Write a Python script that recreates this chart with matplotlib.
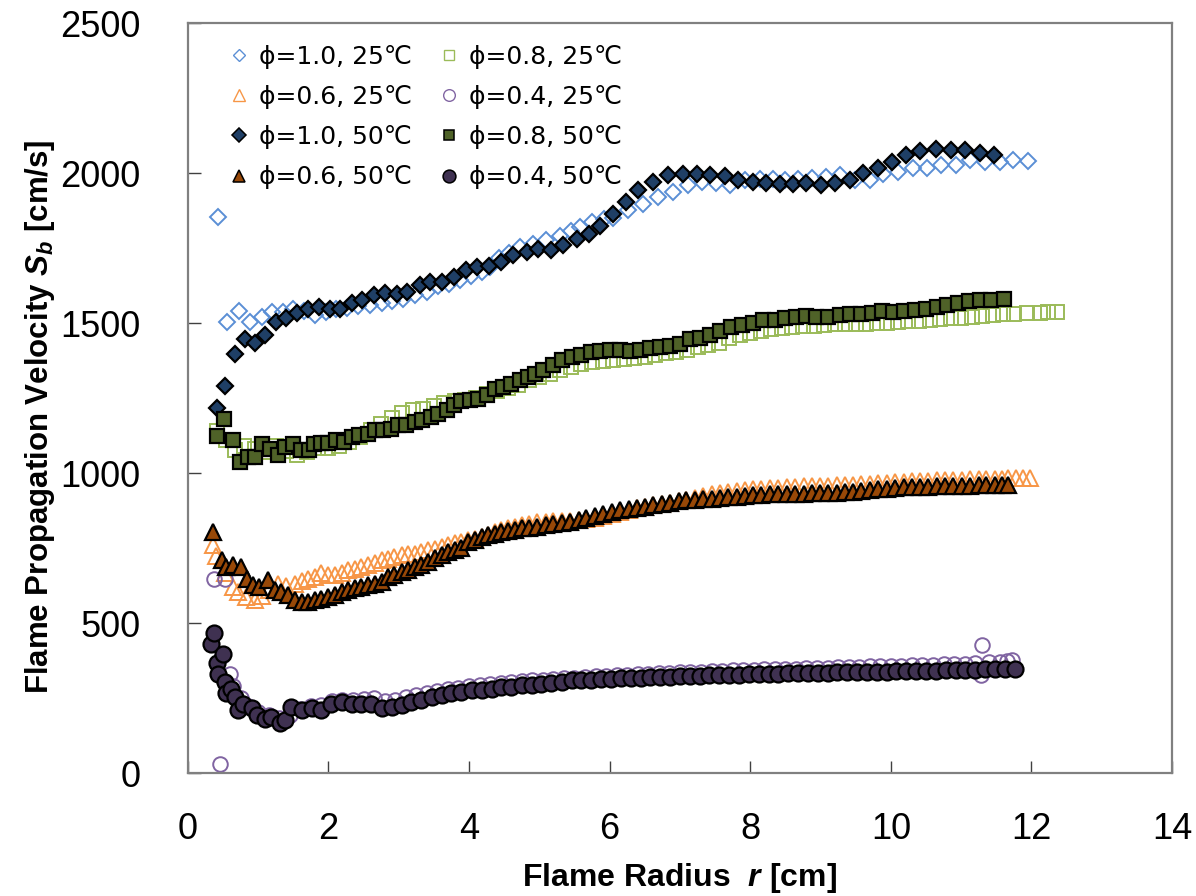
import matplotlib
matplotlib.use('Agg')
import matplotlib.pyplot as plt
from matplotlib.lines import Line2D

plt.rcParams['mathtext.fontset'] = 'custom'
plt.rcParams['mathtext.it'] = 'Liberation Sans:bold:italic'
plt.rcParams['mathtext.rm'] = 'Liberation Sans:bold'

# phi = 1.0
r_10_25 = [0.43, 0.56, 0.73, 0.89, 1.05, 1.20, 1.36, 1.50, 1.66, 1.81, 1.96, 2.11, 2.27, 2.42,
           2.59, 2.76, 2.91, 3.06, 3.23, 3.40, 3.56, 3.72, 3.87, 4.03, 4.18, 4.30, 4.42, 4.57,
           4.72, 4.91, 5.10, 5.30, 5.45, 5.58, 5.75, 5.92, 6.05, 6.26, 6.48, 6.69, 6.90, 7.12,
           7.31, 7.52, 7.71, 7.92, 8.14, 8.33, 8.50, 8.68, 8.88, 9.08, 9.27, 9.49, 9.70, 9.89,
           10.10, 10.31, 10.51, 10.72, 10.93, 11.12, 11.34, 11.55, 11.74, 11.95]
sb_10_25 = [1853, 1504, 1540, 1504, 1520, 1536, 1538, 1549, 1540, 1527, 1538, 1549, 1552, 1557,
            1560, 1566, 1575, 1582, 1593, 1605, 1623, 1632, 1643, 1656, 1671, 1688, 1716, 1735,
            1754, 1765, 1777, 1792, 1808, 1821, 1836, 1846, 1850, 1877, 1899, 1921, 1938, 1960,
            1971, 1966, 1960, 1977, 1982, 1982, 1978, 1980, 1985, 1988, 1993, 1977, 1977, 1999,
            2004, 2016, 2016, 2027, 2027, 2043, 2038, 2038, 2043, 2041]

r_10_50 = [0.41, 0.53, 0.67, 0.81, 0.95, 1.10, 1.25, 1.40, 1.56, 1.71, 1.86, 2.02, 2.17, 2.33,
           2.48, 2.65, 2.80, 2.97, 3.12, 3.30, 3.45, 3.62, 3.78, 3.96, 4.12, 4.28, 4.46, 4.63,
           4.82, 4.98, 5.17, 5.34, 5.53, 5.70, 5.87, 6.05, 6.23, 6.41, 6.62, 6.83, 7.04, 7.24,
           7.43, 7.64, 7.83, 8.04, 8.23, 8.42, 8.61, 8.80, 9.01, 9.20, 9.42, 9.61, 9.82, 10.01,
           10.22, 10.41, 10.64, 10.85, 11.05, 11.27, 11.47]
sb_10_50 = [1218, 1290, 1397, 1446, 1434, 1462, 1504, 1519, 1534, 1546, 1554, 1547, 1547, 1566,
            1577, 1593, 1601, 1597, 1604, 1627, 1638, 1638, 1654, 1679, 1686, 1690, 1704, 1727,
            1738, 1749, 1743, 1760, 1782, 1799, 1823, 1863, 1904, 1943, 1971, 1993, 1999, 1997,
            1993, 1990, 1979, 1971, 1966, 1963, 1963, 1966, 1960, 1966, 1979, 2001, 2019, 2038,
            2060, 2074, 2082, 2077, 2077, 2068, 2060]

# phi = 0.8
r_08_25 = [0.41, 0.55, 0.67, 0.80, 0.95, 1.10, 1.25, 1.40, 1.55, 1.70, 1.85, 2.00, 2.15, 2.30,
           2.45, 2.60, 2.75, 2.90, 3.05, 3.20, 3.35, 3.50, 3.65, 3.80, 3.95, 4.10, 4.25, 4.40,
           4.55, 4.70, 4.85, 5.00, 5.15, 5.30, 5.45, 5.60, 5.75, 5.90, 6.05, 6.20, 6.35, 6.50,
           6.65, 6.80, 6.95, 7.10, 7.25, 7.40, 7.55, 7.70, 7.85, 8.00, 8.15, 8.30, 8.45, 8.60,
           8.75, 8.90, 9.05, 9.20, 9.35, 9.50, 9.65, 9.80, 9.95, 10.10, 10.25, 10.40, 10.55,
           10.70, 10.85, 11.00, 11.15, 11.30, 11.45, 11.60, 11.75, 11.93, 12.12, 12.24, 12.36]
sb_08_25 = [1140, 1110, 1077, 1090, 1080, 1070, 1090, 1075, 1060, 1070, 1085, 1085, 1090, 1105,
            1120, 1145, 1165, 1185, 1200, 1210, 1215, 1225, 1235, 1240, 1245, 1250, 1265, 1275,
            1285, 1295, 1310, 1320, 1330, 1345, 1355, 1365, 1372, 1375, 1378, 1380, 1383, 1388,
            1395, 1400, 1405, 1412, 1420, 1428, 1435, 1450, 1462, 1468, 1475, 1480, 1485, 1488,
            1490, 1492, 1494, 1496, 1497, 1498, 1499, 1500, 1502, 1505, 1507, 1509, 1510,
            1513, 1516, 1519, 1521, 1524, 1528, 1530, 1532, 1534, 1534, 1536, 1536]

r_08_50 = [0.41, 0.52, 0.64, 0.74, 0.85, 0.95, 1.06, 1.17, 1.28, 1.38, 1.50, 1.61, 1.72, 1.80,
           1.90, 2.00, 2.11, 2.22, 2.33, 2.43, 2.56, 2.67, 2.78, 2.89, 2.99, 3.11, 3.23, 3.33,
           3.46, 3.56, 3.68, 3.79, 3.89, 4.01, 4.13, 4.25, 4.37, 4.49, 4.60, 4.72, 4.84, 4.94,
           5.05, 5.20, 5.32, 5.46, 5.60, 5.73, 5.86, 6.00, 6.15, 6.29, 6.43, 6.57, 6.71, 6.86,
           7.00, 7.14, 7.28, 7.43, 7.57, 7.73, 7.89, 8.04, 8.18, 8.35, 8.49, 8.65, 8.80, 8.94,
           9.11, 9.27, 9.42, 9.57, 9.73, 9.88, 10.03, 10.18, 10.34, 10.50, 10.65, 10.80, 10.95,
           11.11, 11.27, 11.43, 11.61]
sb_08_50 = [1123, 1182, 1112, 1038, 1054, 1054, 1099, 1082, 1060, 1088, 1099, 1077, 1077, 1099,
            1101, 1101, 1110, 1104, 1121, 1127, 1132, 1143, 1143, 1149, 1160, 1160, 1171, 1177,
            1188, 1199, 1212, 1227, 1241, 1243, 1249, 1260, 1282, 1288, 1299, 1310, 1321, 1330,
            1343, 1360, 1377, 1388, 1393, 1404, 1408, 1410, 1412, 1408, 1412, 1416, 1421, 1423,
            1432, 1446, 1452, 1460, 1474, 1488, 1493, 1501, 1512, 1512, 1516, 1521, 1523, 1521,
            1521, 1527, 1530, 1532, 1534, 1540, 1538, 1541, 1543, 1549, 1554, 1562, 1568,
            1574, 1577, 1579, 1582]

# phi = 0.6
r_06_25 = [0.36, 0.40, 0.53, 0.64, 0.72, 0.83, 0.95, 1.05, 1.16, 1.28, 1.40, 1.52, 1.62, 1.71,
           1.81, 1.90, 2.00, 2.09, 2.19, 2.28, 2.38, 2.47, 2.56, 2.66, 2.76, 2.85, 2.94, 3.04,
           3.13, 3.23, 3.32, 3.42, 3.51, 3.61, 3.70, 3.80, 3.89, 3.99, 4.08, 4.18, 4.27, 4.37,
           4.46, 4.56, 4.65, 4.75, 4.85, 4.97, 5.09, 5.20, 5.32, 5.44, 5.56, 5.67, 5.79, 5.91,
           6.03, 6.15, 6.27, 6.39, 6.51, 6.62, 6.74, 6.86, 6.98, 7.09, 7.21, 7.33, 7.45, 7.57,
           7.69, 7.81, 7.93, 8.04, 8.16, 8.28, 8.40, 8.52, 8.64, 8.76, 8.88, 8.99, 9.11, 9.23,
           9.35, 9.46, 9.58, 9.70, 9.82, 9.94, 10.06, 10.18, 10.30, 10.41, 10.53, 10.65, 10.77,
           10.89, 11.01, 11.13, 11.25, 11.36, 11.48, 11.58, 11.67, 11.78, 11.88, 11.98]
sb_06_25 = [760, 723, 666, 621, 604, 588, 577, 590, 610, 632, 625, 632, 640, 649,
            655, 666, 662, 660, 668, 677, 682, 688, 693, 700, 710, 715, 720, 727,
            730, 732, 737, 743, 748, 754, 760, 766, 771, 776, 782, 787, 793, 805,
            810, 816, 822, 828, 832, 836, 838, 840, 840, 842, 845, 848, 852, 858,
            864, 872, 878, 884, 889, 894, 898, 902, 907, 912, 918, 924, 930, 935,
            938, 941, 944, 947, 949, 951, 952, 954, 955, 956, 957, 958, 959, 960,
            961, 962, 964, 965, 967, 968, 970, 971, 973, 974, 975, 976, 977,
            978, 979, 980, 980, 981, 982, 982, 983, 983, 984, 984]

r_06_50 = [0.36, 0.48, 0.55, 0.64, 0.76, 0.84, 0.93, 1.02, 1.14, 1.24, 1.33, 1.43, 1.52, 1.62,
           1.71, 1.81, 1.90, 2.00, 2.09, 2.19, 2.28, 2.38, 2.47, 2.56, 2.66, 2.76, 2.85, 2.94,
           3.04, 3.13, 3.23, 3.32, 3.42, 3.51, 3.61, 3.70, 3.80, 3.89, 3.99, 4.08, 4.18, 4.27,
           4.37, 4.46, 4.56, 4.65, 4.75, 4.85, 4.97, 5.09, 5.20, 5.32, 5.44, 5.56, 5.67, 5.79,
           5.91, 6.03, 6.15, 6.27, 6.39, 6.51, 6.62, 6.74, 6.86, 6.98, 7.09, 7.21, 7.33, 7.45,
           7.57, 7.69, 7.81, 7.93, 8.04, 8.16, 8.28, 8.40, 8.52, 8.64, 8.76, 8.88, 8.99, 9.11,
           9.23, 9.35, 9.46, 9.58, 9.70, 9.82, 9.94, 10.06, 10.18, 10.30, 10.41, 10.53, 10.65,
           10.77, 10.89, 11.01, 11.13, 11.25, 11.36, 11.48, 11.58, 11.67]
sb_06_50 = [805, 710, 688, 693, 688, 649, 627, 621, 643, 610, 604, 593, 577, 571,
            571, 577, 582, 588, 593, 604, 610, 616, 621, 627, 632, 638, 654, 660,
            671, 677, 688, 693, 704, 716, 727, 738, 745, 752, 771, 777, 788, 793,
            799, 805, 808, 812, 816, 818, 822, 826, 830, 834, 838, 845, 850, 856,
            864, 870, 877, 881, 885, 889, 893, 897, 902, 906, 910, 912, 914, 915,
            917, 920, 922, 925, 928, 929, 930, 931, 932, 932, 932, 933, 933, 934,
            935, 937, 939, 942, 944, 946, 949, 951, 953, 954, 955, 955, 956,
            956, 957, 958, 959, 960, 960, 961, 961, 962]

# phi = 0.4
r_04_25 = [0.38, 0.53, 0.46, 0.48, 0.60, 0.65, 0.75, 0.85, 1.00, 1.15, 1.30, 1.45, 1.60, 1.75,
           1.90, 2.05, 2.20, 2.35, 2.50, 2.65, 2.80, 2.95, 3.10, 3.25, 3.40, 3.55, 3.70, 3.85,
           4.00, 4.15, 4.30, 4.45, 4.60, 4.75, 4.90, 5.05, 5.20, 5.35, 5.50, 5.65, 5.80, 5.95,
           6.10, 6.25, 6.40, 6.55, 6.70, 6.85, 7.00, 7.15, 7.30, 7.45, 7.60, 7.75, 7.90, 8.05,
           8.20, 8.35, 8.50, 8.65, 8.80, 8.95, 9.10, 9.25, 9.40, 9.55, 9.70, 9.85, 10.00, 10.15,
           10.30, 10.45, 10.60, 10.75, 10.90, 11.05, 11.20, 11.30, 11.28, 11.40, 11.55, 11.65,
           11.72]
sb_04_25 = [646, 646, 32, 390, 330, 290, 250, 225, 205, 195, 185, 195, 215, 225,
            228, 240, 245, 245, 248, 250, 240, 245, 255, 262, 268, 275, 280, 285,
            290, 294, 298, 301, 304, 307, 310, 312, 315, 317, 319, 321, 323, 325,
            327, 329, 330, 332, 333, 335, 336, 338, 339, 340, 341, 343, 344, 345,
            346, 347, 348, 349, 350, 351, 352, 353, 354, 355, 356, 357, 358, 359,
            360, 361, 362, 363, 364, 365, 366, 427, 327, 370, 372, 375,
            377]

r_04_50 = [0.33, 0.38, 0.41, 0.43, 0.50, 0.53, 0.55, 0.62, 0.67, 0.72, 0.79, 0.91, 0.98, 1.10,
           1.19, 1.31, 1.38, 1.47, 1.62, 1.76, 1.90, 2.04, 2.19, 2.33, 2.47, 2.61, 2.76, 2.90,
           3.04, 3.18, 3.32, 3.47, 3.61, 3.75, 3.89, 4.04, 4.18, 4.32, 4.46, 4.60, 4.75, 4.89,
           5.03, 5.17, 5.32, 5.46, 5.60, 5.74, 5.88, 6.02, 6.16, 6.30, 6.44, 6.58, 6.72, 6.86,
           7.00, 7.14, 7.28, 7.42, 7.56, 7.70, 7.84, 7.98, 8.12, 8.26, 8.40, 8.54, 8.68, 8.82,
           8.96, 9.10, 9.24, 9.38, 9.52, 9.66, 9.80, 9.94, 10.08, 10.22, 10.36, 10.50, 10.64,
           10.78, 10.92, 11.06, 11.20, 11.34, 11.48, 11.62, 11.76]
sb_04_50 = [432, 466, 366, 332, 399, 304, 266, 282, 254, 210, 232, 216, 193, 182,
            188, 166, 177, 221, 210, 216, 210, 232, 238, 232, 232, 232, 216, 221,
            227, 238, 243, 254, 260, 266, 271, 277, 277, 282, 288, 288, 293, 293,
            299, 301, 304, 310, 310, 312, 313, 315, 316, 318, 318, 320, 321, 322,
            323, 324, 325, 326, 327, 328, 329, 330, 331, 331, 332, 333, 333, 334,
            334, 335, 336, 336, 337, 338, 338, 339, 340, 340, 341, 342, 342,
            343, 344, 344, 345, 346, 347, 348, 348]

series = [
    # label, r, Sb, marker, size, face, edge, edge width
    ('ϕ=1.0, 25℃', r_10_25, sb_10_25, 'D', 8, 'none', '#5b8fd5', 1.4),
    ('ϕ=0.6, 25℃', r_06_25, sb_06_25, '^', 11, 'none', '#f79646', 1.4),
    ('ϕ=1.0, 50℃', r_10_50, sb_10_50, 'D', 8.5, '#1f3f66', 'black', 1.6),
    ('ϕ=0.6, 50℃', r_06_50, sb_06_50, '^', 11, '#984807', 'black', 1.6),
    ('ϕ=0.8, 25℃', r_08_25, sb_08_25, 's', 9.5, 'none', '#9bbb59', 1.4),
    ('ϕ=0.4, 25℃', r_04_25, sb_04_25, 'o', 10.5, 'none', '#8064a2', 1.4),
    ('ϕ=0.8, 50℃', r_08_50, sb_08_50, 's', 9.5, '#4f6228', 'black', 1.6),
    ('ϕ=0.4, 50℃', r_04_50, sb_04_50, 'o', 11.5, '#3f3151', 'black', 1.6),
]

fig = plt.figure(figsize=(11.96, 8.96), dpi=100)
ax = fig.add_axes([0.157, 0.137, 0.823, 0.837])

handles = []
for label, r, sb, mk, ms, fc, ec, ew in series:
    z = 3 if fc != 'none' else 2
    ax.plot(r, sb, linestyle='none', marker=mk, markersize=ms, markerfacecolor=fc,
            markeredgecolor=ec, markeredgewidth=ew, zorder=z)
    handles.append(Line2D([], [], linestyle='none', marker=mk, markersize=ms * 0.8,
                          markerfacecolor=fc, markeredgecolor=ec, markeredgewidth=ew * 0.7,
                          label=label))

ax.set_xlim(0, 14)
ax.set_ylim(0, 2500)
ax.set_xticks([0, 2, 4, 6, 8, 10, 12, 14])
ax.set_yticks([0, 500, 1000, 1500, 2000, 2500])

for sp in ax.spines.values():
    sp.set_color('#808080')
    sp.set_linewidth(1.6)

ax.tick_params(axis='both', direction='in', length=9, width=1.0, color='#404040')
ax.tick_params(axis='x', pad=28)
ax.tick_params(axis='y', pad=34)
for t in ax.get_xticklabels() + ax.get_yticklabels():
    t.set_fontfamily('Liberation Sans')
    t.set_fontsize(26)

ax.set_xlabel('Flame Radius  $r$ [cm]', fontfamily='Liberation Sans',
              fontweight='bold', fontsize=23, labelpad=10)
ax.set_ylabel('Flame Propagation Velocity $S_b$ [cm/s]', fontfamily='Liberation Sans',
              fontweight='bold', fontsize=22.5)
ax.yaxis.set_label_coords(-0.133, 0.475)

ax.legend(handles=handles, ncol=2, loc='upper left', bbox_to_anchor=(0.015, 1.0),
          frameon=False, prop={'family': 'DejaVu Sans', 'size': 18},
          handletextpad=0.2, columnspacing=0.9, labelspacing=0.65, handlelength=1.2,
          borderaxespad=0.45)

fig.savefig('out.png', dpi=100)
